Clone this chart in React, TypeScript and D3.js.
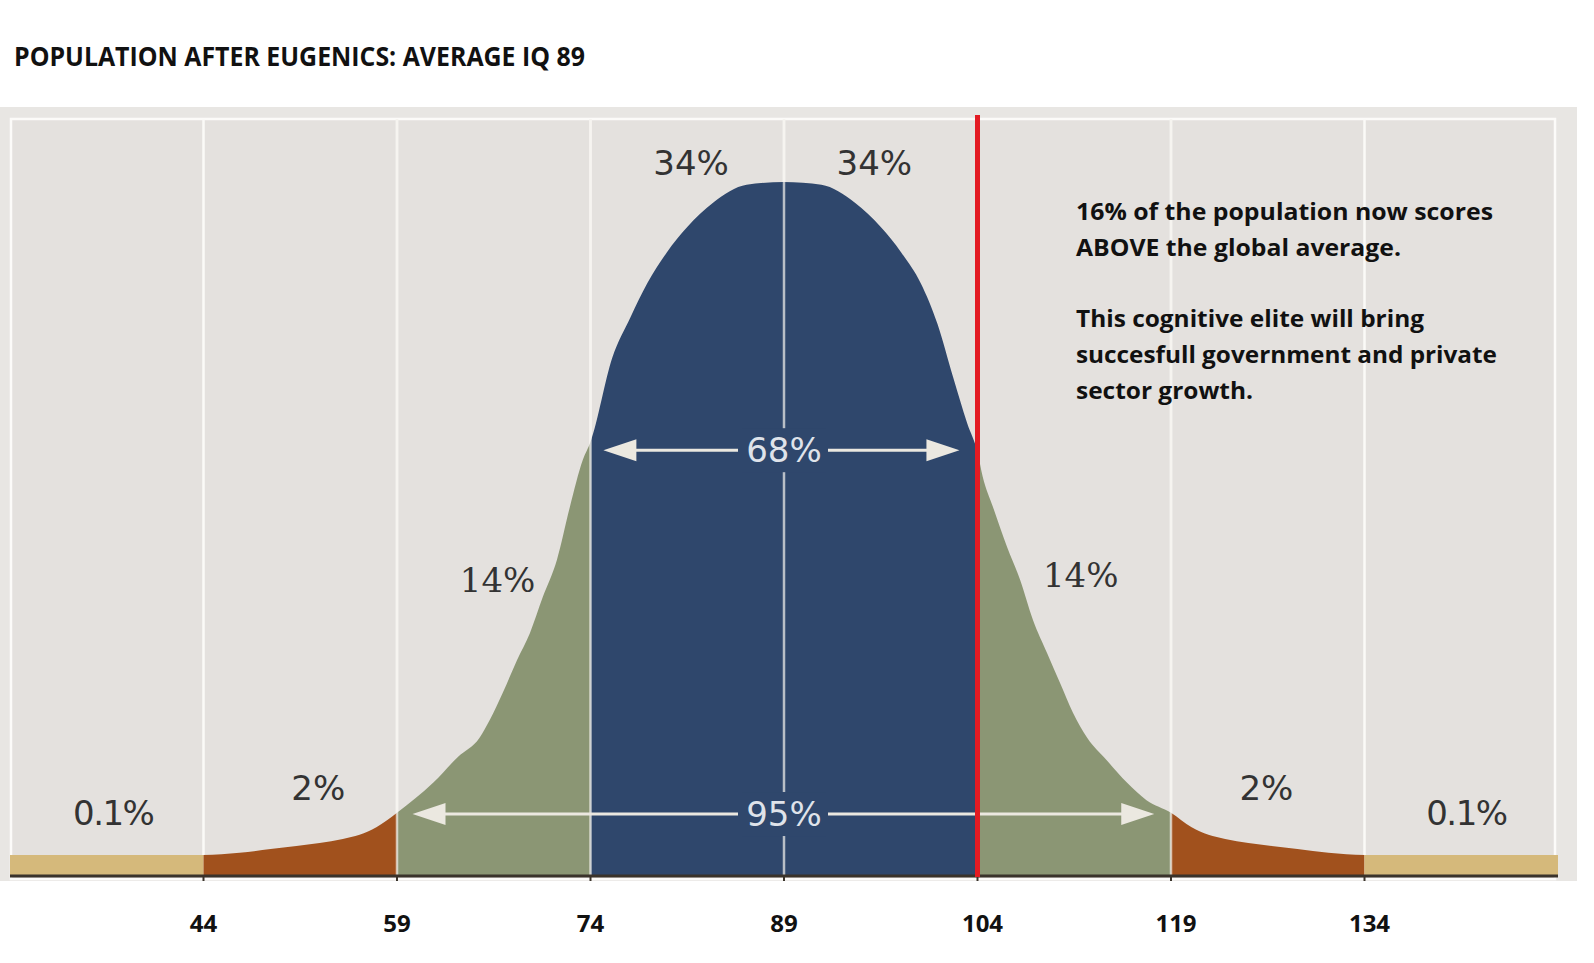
import * as d3 from "d3";
import React from "react";

// curve: IQ -> relative height (peak = 100)
const curveIQ = [29, 44, 46.8, 49.2, 51.2, 53.0, 54.8, 56.1, 57.4, 59, 61.8, 63.7, 65.4, 66.2, 67.2, 68.3, 69.3, 70.3, 71.4, 72.4, 73.4, 74.0, 75.7, 77.1, 78.4, 79.9, 81.5, 83.5, 86.1, 89, 91.9, 94.5, 96.5, 98.1, 99.6, 100.9, 102.1, 103.2, 104, 104.4, 105.2, 106.3, 107.3, 108.3, 109.4, 110.4, 111.4, 112.5, 114.0, 115.6, 117.1, 119, 120.6, 121.9, 123.2, 125.0, 126.8, 128.8, 131.2, 134, 149];
const curveVal = [2.9, 2.9, 3.2, 3.75, 4.2, 4.6, 5.2, 5.8, 6.9, 9.0, 13.3, 17.0, 19.8, 22.4, 26.3, 31.0, 34.9, 40.1, 45.5, 53.1, 59.9, 62.5, 74.7, 80.5, 85.4, 89.8, 93.5, 97.0, 99.6, 100, 99.6, 97.0, 93.5, 89.8, 85.4, 79.5, 71.9, 65.2, 61.0, 57.5, 53.1, 47.3, 42.6, 36.8, 32.0, 27.7, 23.4, 19.8, 16.6, 13.3, 10.8, 9.0, 6.9, 5.8, 5.2, 4.6, 4.2, 3.75, 3.2, 2.9, 2.9];

const bandEdges = [29, 44, 59, 74, 104, 119, 134, 149];
const bandColors = ["#d5b97b", "#a1511d", "#8b9674", "#2f476c", "#8b9674", "#a1511d", "#d5b97b"];

const ticks = [44, 59, 74, 89, 104, 119, 134];

const pctText = ["34%", "34%", "14%", "14%", "2%", "2%", "0.1%", "0.1%"];
const pctIQ = [81.8, 96.0, 66.8, 112.0, 52.9, 126.4, 37.0, 141.9];
const pctLevel = [102.7, 102.7, 42.6, 43.3, 12.6, 12.6, 8.9, 8.9];
const pctSerif = [false, false, true, true, false, false, false, false];

const arrowText = ["68%", "95%"];
const arrowFrom = [75.0, 60.2];
const arrowTo = [102.6, 117.7];
const arrowLevel = [61.3, 8.8];

const cutoffIQ = 104;

const title = "POPULATION AFTER EUGENICS: AVERAGE IQ 89";
const noteLines = [
  "16% of the population now scores",
  "ABOVE the global average.",
  "",
  "This cognitive elite will bring",
  "succesfull government and private",
  "sector growth.",
];
const noteWidths = [417, 325, 0, 348, 421, 177];

export default function App() {
  const W = 1594, H = 963;
  const x = d3.scaleLinear().domain([29, 149]).range([10, 1558]);
  const y = d3.scaleLinear().domain([0, 100]).range([875, 182]);

  const pts: [number, number][] = curveIQ.map((v, i) => [v, curveVal[i]]);
  const area = d3.area<[number, number]>()
    .x(d => x(d[0]))
    .y0(y(0))
    .y1(d => y(d[1]))
    .curve(d3.curveMonotoneX);
  const areaPath = area(pts) || "";

  const sans = "'DejaVu Sans', Verdana, sans-serif";
  const bold = "'Open Sans', 'Liberation Sans', sans-serif";

  return (
    <div style={{ position: "fixed", left: 0, top: 0, width: W, height: H, background: "#fff" }}>
      <svg width={W} height={H} style={{ display: "block" }}>
        <defs>
          {bandColors.map((_, i) => (
            <clipPath id={`band${i}`} key={i}>
              <rect x={x(bandEdges[i])} y={0} width={x(bandEdges[i + 1]) - x(bandEdges[i])} height={H} />
            </clipPath>
          ))}
        </defs>

        <text x={14} y={66} fontFamily={bold} fontWeight={700} fontSize={27} fill="#111"
          textLength={571} lengthAdjust="spacingAndGlyphs">{title}</text>

        {/* panel */}
        <rect x={0} y={107} width={1577} height={774} fill="#e8e6e3" />
        <rect x={11} y={119} width={1544} height={760} fill="#e4e1de" stroke="#fcfbf9" strokeWidth={2.5} />

        {/* grid under the curve */}
        {ticks.map(t => (
          <line key={t} x1={x(t)} x2={x(t)} y1={119} y2={y(0)} stroke="#fbfaf7" strokeWidth={2.5} />
        ))}

        {/* distribution bands */}
        {bandColors.map((c, i) => (
          <path key={i} d={areaPath} fill={c} clipPath={`url(#band${i})`} />
        ))}

        {/* grid over the curve */}
        {ticks.filter(t => t >= 59 && t <= 119).map(t => (
          <line key={t} x1={x(t)} x2={x(t)} y1={y(0)} y2={119} stroke="#f4f2ee" strokeWidth={2.5} opacity={0.7} />
        ))}

        {/* arrows */}
        {arrowText.map((lab, i) => {
          const yy = y(arrowLevel[i]);
          const a = x(arrowFrom[i]), b = x(arrowTo[i]);
          const cx = x(89);
          const col = "#ebe8e0";
          return (
            <g key={lab}>
              <line x1={a + 20} x2={cx - 46} y1={yy} y2={yy} stroke={col} strokeWidth={3} />
              <line x1={cx + 44} x2={b - 20} y1={yy} y2={yy} stroke={col} strokeWidth={3} />
              <path d={`M${a},${yy}L${a + 33},${yy - 11}L${a + 33},${yy + 11}Z`} fill={col} />
              <path d={`M${b},${yy}L${b - 33},${yy - 11}L${b - 33},${yy + 11}Z`} fill={col} />
              <rect x={cx - 42} y={yy - 22} width={84} height={44} fill="#2f476c" />
              <text x={cx} y={yy + 12} textAnchor="middle" fontFamily={sans} fontSize={34} fill="#dfe3ea">{lab}</text>
            </g>
          );
        })}

        {/* percentage labels */}
        {pctText.map((t, i) => (
          <text key={i} x={x(pctIQ[i])} y={y(pctLevel[i]) + 12} textAnchor="middle"
            fontFamily={pctSerif[i] ? "'DejaVu Serif', serif" : sans} fontSize={34} fill="#333"
            letterSpacing={t.length > 3 ? -1.5 : 0}>{t}</text>
        ))}

        {/* axis */}
        <line x1={x(29)} x2={x(149)} y1={y(0) + 1} y2={y(0) + 1} stroke="#3a332b" strokeWidth={3} />
        {ticks.map(t => (
          <line key={t} x1={x(t)} x2={x(t)} y1={y(0)} y2={y(0) + 6} stroke="#3a332b" strokeWidth={2} />
        ))}
        {ticks.map(t => (
          <text key={t} x={x(t) + (t >= 104 ? 5 : 0)} y={932} textAnchor="middle" fontFamily={bold}
            fontWeight={700} fontSize={24} fill="#111">{t}</text>
        ))}

        {/* cutoff */}
        <line x1={x(cutoffIQ)} x2={x(cutoffIQ)} y1={115} y2={y(0) + 2} stroke="#e31b23" strokeWidth={5} />

        {/* note */}
        {noteLines.map((l, i) => l ? (
          <text key={i} x={1076} y={220 + i * 35.8} fontFamily={bold} fontWeight={700} fontSize={24} fill="#111"
            textLength={noteWidths[i]} lengthAdjust="spacingAndGlyphs">{l}</text>
        ) : null)}
      </svg>
    </div>
  );
}
